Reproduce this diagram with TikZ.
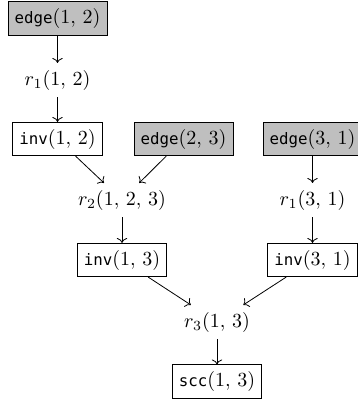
\documentclass[tikz,border=0pt]{standalone}
\usepackage{amsmath}
\usepackage{fontspec}
\newfontfamily\predfont[Scale=0.79]{DejaVu Sans Mono}
\usetikzlibrary{positioning,arrows.meta}
\tikzset{
	->, thin, on grid,% centre to centre distances
	fact/.style ={rectangle, draw, fill=gray!50}, % given facts
	derived/.style ={rectangle, draw}, % derived facts
	rule/.style = {inner sep=3.33pt}
}
\newcommand{\pred}[1]{\text{\predfont #1}}
\newcommand{\sep}{,\,}

\begin{document}
\begin{tikzpicture}
            \useasboundingbox (0,0) rectangle (179pt,-201pt);
            \tikzset{my edge/.style = {->}}
            \node[fact] (e12) at (28.75pt,-9.25pt) {$\pred{edge}(1\sep 2)$};
            \node[rule] (r112) [below=30.75pt of e12] {$r_1(1\sep 2)$};
            \node[derived] (i12) [below=29.5pt of r112] {$\pred{inv}(1\sep 2)$};
            \node[fact] (e23) [right=63pt of i12] {$\pred{edge}(2\sep 3)$};
            \node[fact] (e31) [right=64.5pt of e23] {$\pred{edge}(3\sep 1)$};
            \node[rule] (r2) [below right=30.5pt and 32.25pt of i12] {$r_2(1\sep 2\sep 3)$};
            \node[rule] (r131) [below=30.5pt of e31] {$r_1(3\sep 1)$};
            \node[derived] (i13) [below=30pt of r2] {$\pred{inv}(1\sep 3)$};
            \node[derived] (i31) [below=30pt of r131] {$\pred{inv}(3\sep 1)$};
            \node[rule] (r3) [below right=31pt and 47.5pt of i13] {$r_3(1\sep 3)$};
            \node[derived] (scc) [below=29.75pt of r3] {$\pred{scc}(1\sep 3)$};
            \draw[my edge] (e12) -- (r112);
            \draw[my edge] (r112) -- (i12);
            \draw[my edge] (i12) -- (r2);
            \draw[my edge] (e23) -- (r2);
            \draw[my edge] (e31) -- (r131);
            \draw[my edge] (r2) -- (i13);
            \draw[my edge] (r131) -- (i31);
            \draw[my edge] (i13) -- (r3);
            \draw[my edge] (i31) -- (r3);
            \draw[my edge] (r3) -- (scc);
        \end{tikzpicture}
\end{document}
